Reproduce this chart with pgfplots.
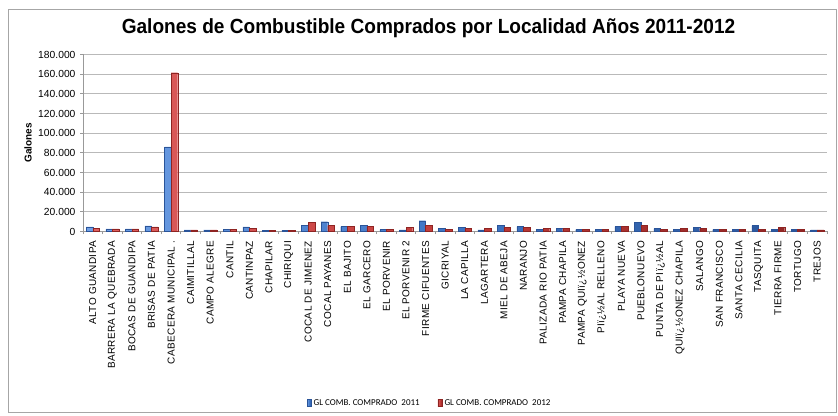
\documentclass[border=0pt]{standalone}
\usepackage{fontspec}
\setmainfont{Liberation Sans}
\newfontfamily\titlefont[FakeStretch=0.93]{Liberation Sans}
\newfontfamily\xfont[LetterSpace=3.5]{Liberation Sans}
\newfontfamily\legfont{Carlito}
\usepackage{pgfplots}
\pgfplotsset{compat=1.18}
\definecolor{blueL}{HTML}{6FA0E6}
\definecolor{blueM}{HTML}{3D74C4}
\definecolor{blueD}{HTML}{2A5499}
\definecolor{redL}{HTML}{E06060}
\definecolor{redM}{HTML}{C03A38}
\definecolor{redD}{HTML}{8E2422}
\begin{document}
\begin{tikzpicture}[x=1pt,y=1pt]
\path (0,0) rectangle (838,415);
\draw[gray!70, line width=0.8pt] (8,3) rectangle (836,406);
\node[font=\titlefont\bfseries\fontsize{20.5}{24}\selectfont] at (428.5,386.5) {Galones de Combustible Comprados por Localidad Años 2011-2012};
\begin{axis}[
  at={(83pt,183.5pt)}, anchor=south west,
  scale only axis, width=744pt, height=177pt,
  xmin=0.5, xmax=38.5, ymin=0, ymax=180000,
  ybar=0pt, bar width=6.6pt,
  axis x line=bottom, axis y line=left,
  axis line style={-, gray!80, line width=0.8pt},
  ymajorgrids, grid style={gray!55, line width=0.8pt},
  ytick={0,20000,...,180000},
  scaled y ticks=false,
  /pgf/number format/.cd, fixed, 1000 sep={.}, assume math mode=true, /pgfplots/.cd,
  yticklabel style={font=\fontsize{10.3}{11}\selectfont, xshift=-1pt},
  ytick style={gray!80, line width=0.8pt},
  tick align=outside, major tick length=3pt,
  xtick={1,...,38},
  xtick style={draw=none},
  extra x ticks={0.5,1.5,...,38.5},
  extra x tick labels={},
  extra x tick style={xtick style={draw=gray!80, line width=0.8pt}, grid=none},
  xticklabel shift=3pt,
  xticklabel style={rotate=90, anchor=east, font=\xfont\fontsize{10}{11}\selectfont},
  xticklabels={ALTO GUANDIPA, BARRERA LA QUEBRADA, BOCAS DE GUANDIPA, BRISAS DE PATIA, CABECERA MUNICIPAL ., CAIMITILLAL, CAMPO ALEGRE, CANTIL, CANTINPAZ, CHAPILAR, CHIRIQUI, COCAL DE JIMENEZ, COCAL PAYANES, EL BAJITO, EL GARCERO, EL PORVENIR, EL PORVENIR 2, FIRME CIFUENTES, GICRIYAL, LA CAPILLA, LAGARTERA, MIEL DE ABEJA, NARANJO, PALIZADA RIO PATIA, PAMPA CHAPILA, PAMPA QUIï¿½ONEZ, PIï¿½AL RELLENO, PLAYA NUEVA, PUEBLONUEVO, PUNTA DE PIï¿½AL, QUIï¿½ONEZ CHAPILA, SALANGO, SAN FRANCISCO, SANTA CECILIA, TASQUITA, TIERRA FIRME, TORTUGO, TREJOS},
  ylabel={Galones},
  ylabel style={font=\bfseries\fontsize{10}{12}\selectfont, at={(axis description cs:-0.074,0.5)}, anchor=center},
  legend columns=2,
  legend style={draw=none, font=\legfont\fontsize{9}{10}\selectfont, at={(axis description cs:0.466,-0.969)}, anchor=center, /tikz/every even column/.append style={column sep=16pt}},
  legend image code/.code={\fill[#1] (0pt,-3pt) rectangle (4.5pt,4pt);},
]
\addplot[draw=blueD, line width=0.3pt, left color=blueL, right color=blueD, middle color=blueM] coordinates {
(1,4700) (2,2700) (3,2700) (4,5700) (5,86000) (6,1700) (7,1700) (8,2300) (9,4700) (10,1500)
(11,1500) (12,6000) (13,10000) (14,5000) (15,6000) (16,2000) (17,1700) (18,11000) (19,3000) (20,4000)
(21,1700) (22,6000) (23,5000) (24,2000) (25,3000) (26,2000) (27,2000) (28,5000) (29,9000) (30,3000)
(31,2000) (32,4000) (33,2000) (34,2000) (35,6000) (36,2000) (37,2000) (38,1700)};
\addplot[draw=redD, line width=0.3pt, left color=redL, right color=redD, middle color=redM] coordinates {
(1,3400) (2,2700) (3,2700) (4,4700) (5,161500) (6,1700) (7,1700) (8,2300) (9,3300) (10,1500)
(11,1500) (12,9000) (13,6000) (14,5000) (15,5000) (16,2000) (17,4000) (18,6000) (19,2000) (20,3000)
(21,3000) (22,4000) (23,4000) (24,3000) (25,3000) (26,2000) (27,2000) (28,5000) (29,6000) (30,2000)
(31,3000) (32,3000) (33,2000) (34,2000) (35,2000) (36,4000) (37,2000) (38,1700)};
\legend{GL COMB. COMPRADO\ \ 2011, GL COMB. COMPRADO\ \ 2012}
\end{axis}
\end{tikzpicture}
\end{document}
